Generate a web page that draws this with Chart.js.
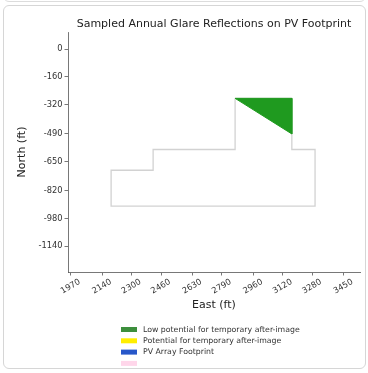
<!DOCTYPE html>
<html><head><meta charset="utf-8">
<script src="https://cdn.jsdelivr.net/npm/chart.js@4.4.0/dist/chart.umd.min.js"></script>
<style>
html,body{margin:0;padding:0;background:#fff;width:368px;height:373px;overflow:hidden;}
#prev{position:absolute;left:3px;top:-12px;width:361px;height:12px;border:1px solid #dcdcdc;border-radius:6px;}
#card{position:absolute;left:3px;top:5px;width:361px;height:362px;border:1px solid #d6d6d6;border-radius:6px;}
#wrap{position:absolute;left:0;top:0;width:368px;height:373px;}
</style></head>
<body>
<div id="prev"></div>
<div id="card"></div>
<div id="wrap"><canvas id="c" width="368" height="373"></canvas></div>
<script>
const chartTitle = 'Sampled Annual Glare Reflections on PV Footprint';
const eastTicks = [1970, 2140, 2300, 2460, 2630, 2790, 2960, 3120, 3280, 3450];
const northTicks = [0, -160, -320, -490, -650, -820, -980, -1140];
const footprintEast  = [2862, 3170, 3170, 3296, 3296, 2189, 2189, 2417, 2417, 2862, 2862];
const footprintNorth = [-284, -284, -580, -580, -908, -908, -700, -700, -580, -580, -284];
const glareEast  = [2862, 3170, 3170, 2862];
const glareNorth = [-284, -284, -490, -284];
const legendLabels = ['Low potential for temporary after-image', 'Potential for temporary after-image', 'PV Array Footprint', ''];
const legendColors = ['#3d8f3d', '#ffee00', '#2757c9', '#ffd6ea'];

const toPts = (xs, ys) => xs.map((x, i) => ({x: x, y: ys[i]}));
const FONT = 'DejaVu Sans';

const legendPlugin = {
  id: 'customLegend',
  afterDraw(chart) {
    const ctx = chart.ctx;
    ctx.save();
    ctx.font = '7.8px "' + FONT + '"';
    ctx.textBaseline = 'middle';
    ctx.textAlign = 'left';
    legendLabels.forEach((t, i) => {
      const y = 329.5 + i * 11.3;
      ctx.fillStyle = legendColors[i];
      ctx.fillRect(121, y - 2.5, 16, 5);
      ctx.fillStyle = '#333';
      if (t) ctx.fillText(t, 143, y);
    });
    ctx.restore();
  }
};

const axisCommon = {
  grid: {drawOnChartArea: false, drawTicks: true, tickLength: 3.5, color: '#555', tickWidth: 0.8},
  border: {display: true, color: '#555', width: 0.8},
};

new Chart(document.getElementById('c'), {
  type: 'scatter',
  data: {
    datasets: [
      {
        label: legendLabels[0],
        data: toPts(glareEast, glareNorth),
        showLine: true, fill: 'shape', tension: 0,
        backgroundColor: '#1f9a1f', borderColor: '#1f9a1f', borderWidth: 1,
        pointRadius: 0, order: 0
      },
      {
        label: legendLabels[2],
        data: toPts(footprintEast, footprintNorth),
        showLine: true, fill: false, tension: 0,
        borderColor: '#d2d2d2', borderWidth: 1.3,
        pointRadius: 0, order: 1
      }
    ]
  },
  options: {
    responsive: false,
    devicePixelRatio: 1,
    animation: false,
    layout: {padding: {left: 0, right: 8, top: 0, bottom: 61}},
    plugins: {
      legend: {display: false},
      tooltip: {enabled: false},
      title: {
        display: true, text: chartTitle, fullSize: false,
        font: {family: FONT, size: 11, weight: 'normal'}, color: '#222',
        padding: {top: 18, bottom: 0.8}
      }
    },
    scales: {
      x: Object.assign({}, axisCommon, {
        type: 'linear', min: 1955, max: 3540,
        afterBuildTicks: s => { s.ticks = eastTicks.map(v => ({value: v})); },
        afterFit: s => { s.height = 40; },
        ticks: {
          autoSkip: false, minRotation: 30, maxRotation: 30, labelOffset: 9, padding: 1.5,
          font: {family: FONT, size: 8.3}, color: '#333',
          callback: v => String(v)
        },
        title: {display: true, text: 'East (ft)', font: {family: FONT, size: 11}, color: '#222', padding: {top: 0, bottom: 0.4}}
      }),
      y: Object.assign({}, axisCommon, {
        type: 'linear', min: -1289, max: 100,
        afterBuildTicks: s => { s.ticks = northTicks.map(v => ({value: v})); },
        afterFit: s => { s.width = 68; },
        ticks: {
          autoSkip: false, padding: 2,
          font: {family: FONT, size: 8.3}, color: '#333',
          callback: v => String(v)
        },
        title: {display: true, text: 'North (ft)', font: {family: FONT, size: 11}, color: '#222', padding: {top: 15.5, bottom: 0}}
      })
    }
  },
  plugins: [legendPlugin]
});
</script>
</body></html>
